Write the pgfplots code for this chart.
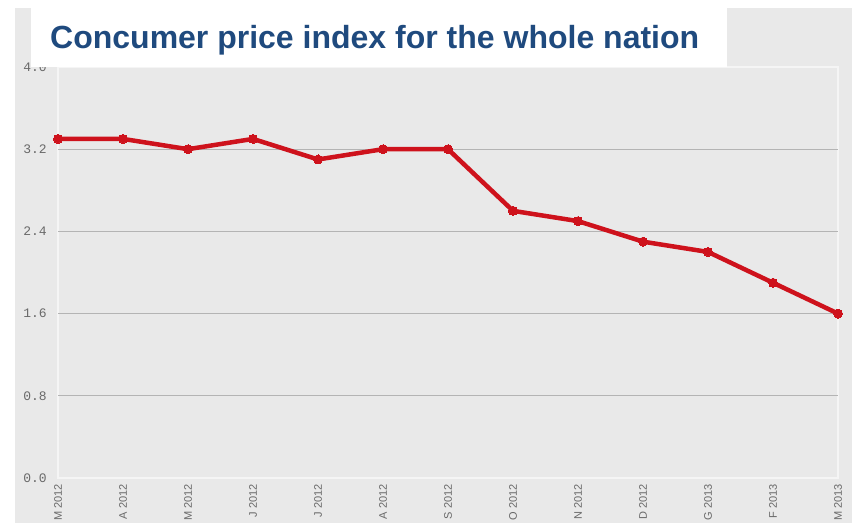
\documentclass[border=0pt]{standalone}
\usepackage{fontspec}
\setmainfont{Liberation Sans}
\setmonofont{Liberation Mono}
\usepackage{pgfplots}
\pgfplotsset{compat=1.18}
\definecolor{panel}{RGB}{233,233,233}
\definecolor{boxline}{RGB}{245,245,245}
\definecolor{gridc}{RGB}{180,180,180}
\definecolor{lab}{RGB}{105,105,105}
\definecolor{cpired}{RGB}{206,18,28}
\definecolor{titleblue}{RGB}{31,74,126}
\begin{document}
\begin{tikzpicture}[x=1bp,y=1bp]
\path[use as bounding box] (0,0) rectangle (852,523);
\clip (0,0) rectangle (852,523);
\fill[white] (0,0) rectangle (852,523);
\fill[panel] (15,0) rectangle (852,515);
\begin{axis}[
  at={(58bp,45bp)}, anchor=south west,
  scale only axis, width=780bp, height=411bp,
  xmin=0, xmax=12, ymin=0, ymax=4,
  axis background/.style={fill=panel},
  axis line style={draw=boxline, line width=2.5bp},
  major tick length=0pt,
  xtick={0,...,12},
  xticklabels={M 2012,A 2012,M 2012,J 2012,J 2012,A 2012,S 2012,O 2012,N 2012,D 2012,G 2013,F 2013,M 2013},
  xticklabel style={rotate=90, anchor=east, inner sep=0pt, xshift=-6bp, font=\fontsize{11bp}{13bp}\selectfont, text=lab},
  ytick={0,0.8,1.6,2.4,3.2,4.0},
  /pgf/number format/assume math mode=true,
  yticklabel style={anchor=east, inner sep=0pt, xshift=-11bp, font=\ttfamily\fontsize{13bp}{15bp}\selectfont, text=lab, /pgf/number format/fixed, /pgf/number format/fixed zerofill, /pgf/number format/precision=1},
  extra y ticks={0.8,1.6,2.4,3.2},
  extra y tick labels={},
  extra y tick style={grid=major, major grid style={draw=gridc, line width=0.9bp}},
  clip=false,
]
\addplot[color=cpired, line width=4.5bp, mark=*, mark size=4.5bp, mark options={fill=cpired, draw=cpired, line width=0pt}]
coordinates {(0,3.3) (1,3.3) (2,3.2) (3,3.3) (4,3.1) (5,3.2) (6,3.2) (7,2.6) (8,2.5) (9,2.3) (10,2.2) (11,1.9) (12,1.6)};
\end{axis}
\fill[white] (31,456) rectangle (727,523);
\node[anchor=base west, inner sep=0pt, text=titleblue, font=\bfseries\fontsize{32bp}{38bp}\selectfont] at (50,474) {Concumer price index for the whole nation};
\end{tikzpicture}
\end{document}
